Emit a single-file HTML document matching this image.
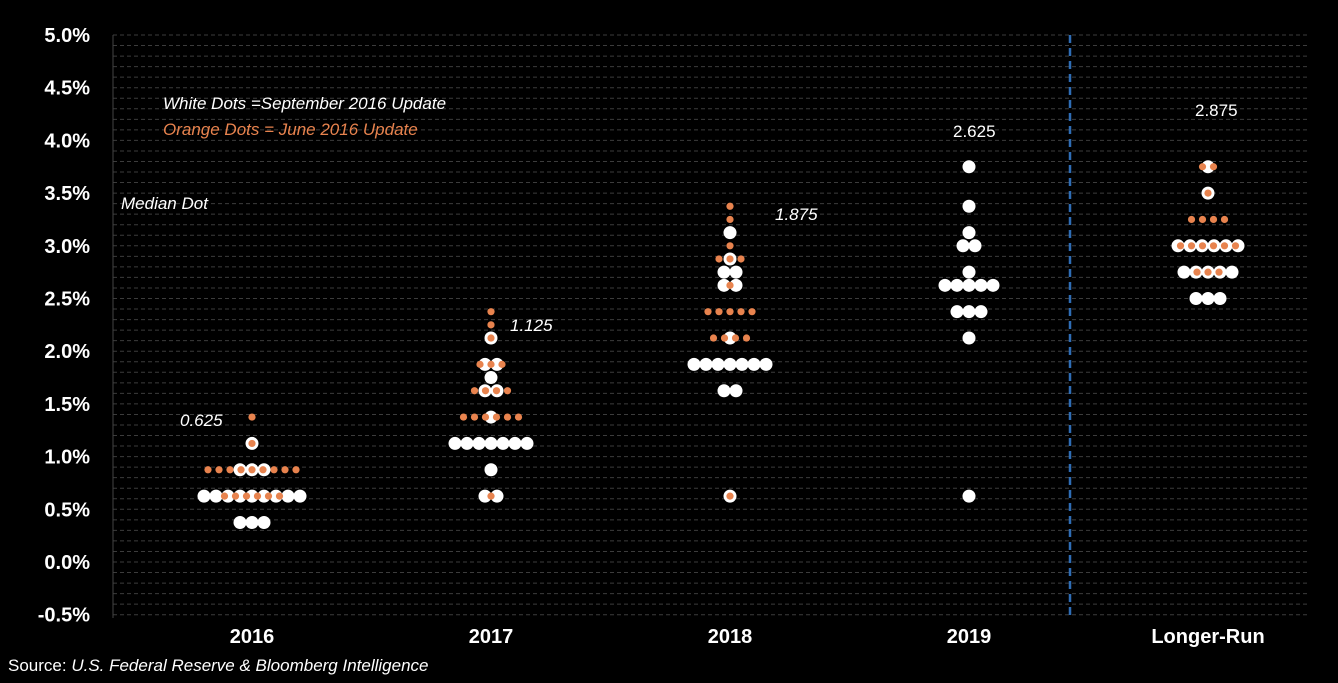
<!DOCTYPE html>
<html><head><meta charset="utf-8"><style>
body{margin:0;background:#000;}
svg{display:block;font-family:"Liberation Sans",sans-serif;}
</style></head><body>
<svg id="chart" width="1338" height="683">
<rect width="1338" height="683" fill="#000"/>
<g id="grid"></g>
<g id="axes"></g>
<g id="dots"></g>
<line x1="1070" y1="35" x2="1070" y2="618" stroke="#2e6db5" stroke-width="2.5" stroke-dasharray="8,5"/>
<text x="163" y="109" fill="#fff" font-size="17" font-style="italic">White Dots =September 2016 Update</text>
<text x="163" y="135" fill="#e8834e" font-size="17" font-style="italic">Orange Dots = June 2016 Update</text>
<text x="121" y="209" fill="#fff" font-size="17" font-style="italic">Median Dot</text>
<text x="8" y="671" fill="#fff" font-size="17">Source: <tspan font-style="italic">U.S. Federal Reserve &amp; Bloomberg Intelligence</tspan></text>
</svg>
<script>
const categories=["2016","2017","2018","2019","Longer-Run"];
const medians=["0.625","1.125","1.875","2.625","2.875"];
const yTicks=[-0.5,0,0.5,1,1.5,2,2.5,3,3.5,4,4.5,5];
// [rate, count] rows
const whiteDots=[
 [[1.125,1],[0.875,3],[0.625,9],[0.375,3]],
 [[2.125,1],[1.875,2],[1.75,1],[1.625,2],[1.375,1],[1.125,7],[0.875,1],[0.625,2]],
 [[3.125,1],[2.875,1],[2.75,2],[2.625,2],[2.125,1],[1.875,7],[1.625,2],[0.625,1]],
 [[3.75,1],[3.375,1],[3.125,1],[3.0,2],[2.75,1],[2.625,5],[2.375,3],[2.125,1],[0.625,1]],
 [[3.75,1],[3.5,1],[3.0,6],[2.75,5],[2.5,3]]
];
const orangeDots=[
 [[1.375,1],[1.125,1],[0.875,9],[0.625,6]],
 [[2.375,1],[2.25,1],[2.125,1],[1.875,3],[1.625,4],[1.375,6],[0.625,1]],
 [[3.375,1],[3.25,1],[3.0,1],[2.875,3],[2.625,1],[2.375,5],[2.125,4],[0.625,1]],
 [],
 [[3.75,2],[3.5,1],[3.25,4],[3.0,6],[2.75,3]]
];
const medianPos=[[180,426],[510,331],[775,220],[953,137],[1195,116]];
const NS="http://www.w3.org/2000/svg";
const y=v=>562-v*105.4;
const x=i=>252+i*239;
function mk(t,a,p){const e=document.createElementNS(NS,t);for(const k in a)e.setAttribute(k,a[k]);p.appendChild(e);return e;}
const grid=document.getElementById('grid'),axes=document.getElementById('axes'),dots=document.getElementById('dots');
for(let v=-0.5;v<=5.001;v+=0.1){
 const l=mk('line',{x1:113,x2:1310,y1:y(v),y2:y(v),stroke:'#3c3c3c','stroke-width':1,'stroke-dasharray':'4,3'},grid);
 
 
}
const ax=mk('line',{x1:113,x2:113,y1:35,y2:618,stroke:'#444','stroke-width':1},axes);


yTicks.forEach(v=>{
 const t=mk('text',{x:90,y:y(v)+7,fill:'#fff','font-size':20,'font-weight':'bold','text-anchor':'end'},axes);
 t.textContent=v.toFixed(1)+'%';
 
 
});
categories.forEach((c,i)=>{
 const t=mk('text',{x:x(i),y:643,fill:'#fff','font-size':20,'font-weight':'bold','text-anchor':'middle'},axes);
 t.textContent=c;
 
 
 const m=mk('text',{x:medianPos[i][0],y:medianPos[i][1],fill:'#fff','font-size':17,'font-style':i<3?'italic':'normal'},axes);
 m.textContent=medians[i];
 
 
});
function drawRows(rows,i,r,fill,sp){
 rows.forEach(([rate,n])=>{
  for(let k=0;k<n;k++){
   const cx=x(i)+(k-(n-1)/2)*sp;
   const c=mk('circle',{cx:cx,cy:y(rate),r:r,fill:fill},dots);
   
   
  }
 });
}
whiteDots.forEach((rows,i)=>drawRows(rows,i,6.5,'#fff',12));
orangeDots.forEach((rows,i)=>drawRows(rows,i,3.6,'#e8834e',11));
</script>
</body></html>
